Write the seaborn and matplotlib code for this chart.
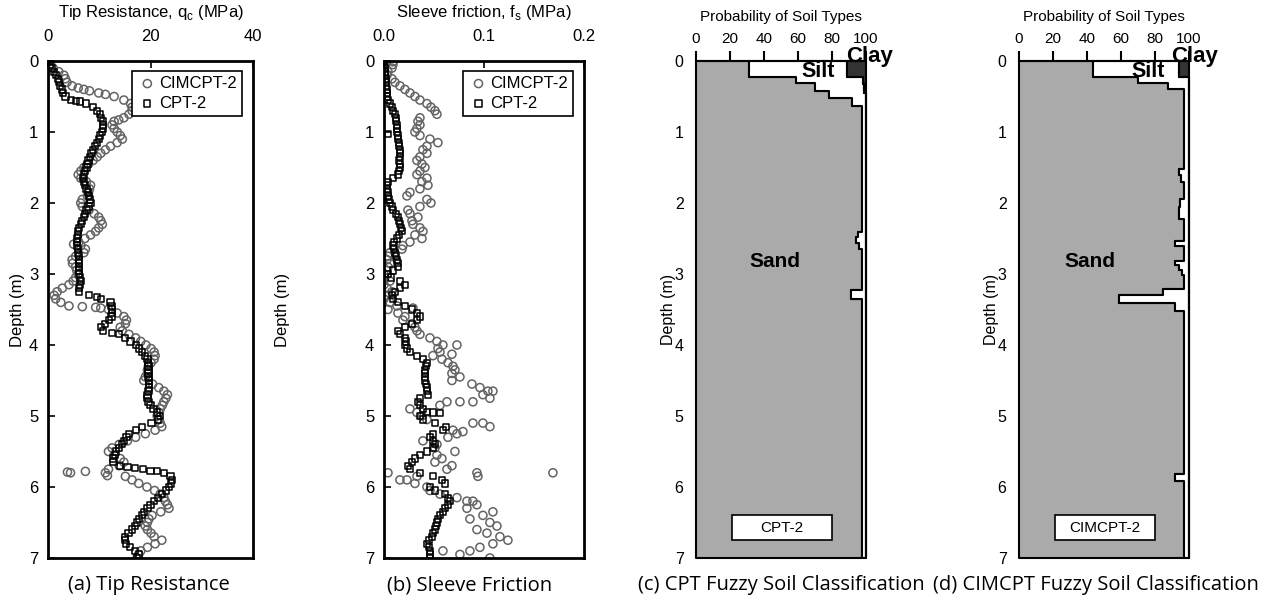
import numpy as np
import matplotlib
matplotlib.use('Agg')
import matplotlib.pyplot as plt
from matplotlib.patches import Rectangle
import seaborn as sns

# (a) tip resistance qc, MPa
qc_cpt_depth = [0.00, 0.05, 0.10, 0.15, 0.20, 0.25, 0.30, 0.35, 0.40, 0.45, 0.50, 0.55, 0.56, 0.57, 0.60, 0.65,
                0.70, 0.75, 0.80, 0.85, 0.90, 0.95, 1.00, 1.05, 1.10, 1.15, 1.20, 1.25, 1.30, 1.35, 1.40, 1.45,
                1.50, 1.55, 1.60, 1.65, 1.70, 1.75, 1.80, 1.85, 1.90, 1.95, 2.00, 2.05, 2.10, 2.15, 2.20, 2.25,
                2.30, 2.35, 2.40, 2.45, 2.50, 2.55, 2.60, 2.65, 2.70, 2.75, 2.80, 2.85, 2.90, 2.95, 3.00, 3.05,
                3.10, 3.15, 3.20, 3.25, 3.30, 3.32, 3.35, 3.40, 3.45, 3.50, 3.55, 3.60, 3.65, 3.70, 3.75, 3.80,
                3.83, 3.85, 3.90, 3.95, 4.00, 4.05, 4.10, 4.15, 4.20, 4.25, 4.30, 4.35, 4.40, 4.45, 4.50, 4.55,
                4.60, 4.65, 4.70, 4.75, 4.80, 4.85, 4.90, 4.95, 5.00, 5.05, 5.10, 5.15, 5.20, 5.25, 5.30, 5.35,
                5.40, 5.45, 5.50, 5.55, 5.60, 5.65, 5.70, 5.72, 5.73, 5.75, 5.77, 5.78, 5.80, 5.85, 5.90, 5.95,
                6.00, 6.05, 6.10, 6.15, 6.20, 6.25, 6.30, 6.35, 6.40, 6.45, 6.50, 6.55, 6.60, 6.65, 6.70, 6.75,
                6.80, 6.85, 6.90, 6.95, 7.00]
qc_cpt = [0.0, 0.4, 0.8, 1.2, 1.6, 1.9, 2.1, 2.4, 2.7, 3.0, 3.4, 4.5, 5.5, 6.3, 7.4, 8.8,
          9.6, 10.1, 10.4, 10.7, 10.8, 10.7, 10.5, 10.2, 9.9, 9.5, 9.1, 8.8, 8.5, 8.2, 7.9, 7.7,
          7.5, 7.2, 7.0, 6.9, 7.0, 7.2, 7.5, 7.8, 8.0, 8.2, 8.3, 7.9, 7.5, 7.2, 7.0, 6.7,
          6.4, 6.1, 5.9, 5.8, 5.7, 5.6, 5.7, 5.8, 5.9, 6.0, 6.0, 6.0, 6.0, 6.1, 6.1, 6.3,
          6.4, 6.2, 6.0, 6.0, 8.0, 9.6, 10.4, 12.2, 12.4, 12.5, 12.5, 12.4, 11.9, 11.2, 10.3, 10.8,
          12.5, 13.8, 15.1, 16.1, 17.1, 17.8, 18.4, 18.9, 19.4, 19.5, 19.6, 19.6, 19.6, 19.6, 19.7, 19.7,
          19.7, 19.6, 19.4, 19.4, 19.6, 20.0, 20.6, 21.3, 21.9, 21.5, 20.2, 18.4, 17.1, 15.8, 15.3, 14.8,
          14.4, 13.8, 13.3, 13.0, 12.7, 12.8, 14.1, 15.5, 17.0, 18.5, 20.0, 21.3, 22.6, 23.9, 24.2, 24.0,
          23.6, 23.0, 22.3, 21.5, 20.7, 20.0, 19.4, 18.8, 18.3, 17.8, 17.4, 16.9, 16.4, 15.7, 15.1, 15.0,
          15.2, 16.0, 17.0, 17.7, 17.3]

qc_cim_depth = [0.00, 0.05, 0.10, 0.15, 0.20, 0.25, 0.30, 0.35, 0.38, 0.40, 0.42, 0.45, 0.47, 0.50, 0.55, 0.60,
                0.65, 0.70, 0.75, 0.80, 0.83, 0.85, 0.90, 0.95, 1.00, 1.05, 1.10, 1.15, 1.20, 1.25, 1.30, 1.35,
                1.40, 1.45, 1.50, 1.55, 1.60, 1.65, 1.70, 1.75, 1.80, 1.85, 1.90, 1.95, 2.00, 2.05, 2.10, 2.15,
                2.20, 2.25, 2.30, 2.35, 2.40, 2.45, 2.50, 2.55, 2.58, 2.60, 2.65, 2.70, 2.75, 2.80, 2.85, 2.90,
                2.95, 3.00, 3.05, 3.10, 3.15, 3.20, 3.25, 3.30, 3.35, 3.40, 3.45, 3.46, 3.47, 3.48, 3.50, 3.55,
                3.60, 3.65, 3.70, 3.75, 3.80, 3.85, 3.90, 3.95, 4.00, 4.05, 4.10, 4.15, 4.20, 4.25, 4.30, 4.35,
                4.40, 4.45, 4.50, 4.55, 4.60, 4.65, 4.70, 4.75, 4.80, 4.85, 4.90, 4.95, 5.00, 5.05, 5.10, 5.15,
                5.20, 5.25, 5.30, 5.35, 5.40, 5.45, 5.50, 5.55, 5.60, 5.65, 5.70, 5.75, 5.80, 5.79, 5.80, 5.78,
                5.84, 5.85, 5.90, 5.95, 6.00, 6.05, 6.10, 6.15, 6.20, 6.25, 6.30, 6.35, 6.40, 6.45, 6.50, 6.55,
                6.60, 6.65, 6.70, 6.75, 6.80, 6.85, 6.90, 6.95, 7.00]
qc_cim = [0.0, 0.5, 1.0, 2.1, 3.1, 3.4, 3.7, 4.7, 5.9, 7.0, 8.1, 9.9, 11.2, 12.9, 14.8, 16.1,
          16.4, 16.4, 15.8, 14.8, 13.8, 12.9, 12.5, 12.9, 13.5, 14.1, 14.5, 13.5, 12.2, 11.2, 10.3, 9.6,
          8.8, 7.9, 7.0, 6.4, 5.9, 6.4, 7.5, 8.3, 8.1, 7.9, 7.7, 6.7, 6.4, 6.7, 8.0, 9.0,
          9.9, 10.3, 10.6, 9.9, 9.3, 8.3, 7.2, 6.0, 5.0, 6.4, 7.3, 7.0, 5.4, 4.7, 4.8, 5.4,
          5.6, 5.9, 5.4, 4.9, 4.1, 2.8, 1.8, 1.2, 1.5, 2.5, 4.1, 6.7, 9.3, 10.3, 11.8, 13.5,
          14.8, 15.3, 15.1, 14.1, 14.5, 15.8, 17.1, 18.1, 19.1, 20.1, 20.7, 20.9, 20.7, 20.1, 19.6, 19.4,
          19.4, 19.0, 18.7, 20.4, 21.6, 22.6, 23.3, 23.0, 22.6, 22.3, 21.9, 21.6, 21.3, 21.6, 21.9, 22.2,
          20.9, 19.0, 17.1, 15.5, 13.9, 12.5, 11.8, 12.9, 14.1, 14.8, 13.9, 11.8, 11.2, 3.8, 4.4, 7.3,
          11.6, 15.1, 16.4, 17.7, 19.3, 20.8, 21.9, 22.6, 22.9, 23.3, 23.6, 22.0, 20.3, 19.7, 19.4, 19.0,
          19.4, 20.1, 20.7, 22.2, 20.9, 19.4, 18.1, 17.7, 17.4]

# (b) sleeve friction fs, MPa
fs_cpt_depth = [0.00, 0.05, 0.10, 0.15, 0.20, 0.25, 0.30, 0.35, 0.40, 0.45, 0.50, 0.55, 0.60, 0.65, 0.70, 0.75,
                0.80, 0.85, 0.90, 0.95, 1.00, 1.03, 1.05, 1.10, 1.15, 1.20, 1.25, 1.30, 1.35, 1.40, 1.45, 1.50,
                1.55, 1.60, 1.65, 1.70, 1.75, 1.80, 1.85, 1.90, 1.95, 2.00, 2.05, 2.10, 2.15, 2.20, 2.25, 2.30,
                2.35, 2.40, 2.45, 2.50, 2.55, 2.60, 2.65, 2.70, 2.75, 2.80, 2.85, 2.90, 2.95, 3.00, 3.05, 3.10,
                3.15, 3.20, 3.25, 3.30, 3.35, 3.40, 3.45, 3.50, 3.55, 3.60, 3.65, 3.70, 3.75, 3.80, 3.85, 3.90,
                3.95, 4.00, 4.05, 4.10, 4.15, 4.20, 4.25, 4.30, 4.35, 4.40, 4.45, 4.50, 4.55, 4.60, 4.65, 4.70,
                4.75, 4.80, 4.85, 4.90, 4.94, 4.95, 4.96, 5.00, 5.05, 5.10, 5.15, 5.20, 5.25, 5.30, 5.35, 5.40,
                5.45, 5.50, 5.55, 5.60, 5.65, 5.70, 5.75, 5.80, 5.85, 5.90, 5.95, 6.00, 6.05, 6.10, 6.15, 6.20,
                6.25, 6.30, 6.35, 6.40, 6.45, 6.50, 6.55, 6.60, 6.65, 6.70, 6.75, 6.80, 6.85, 6.90, 6.95, 7.00]
fs_cpt = [0.000, 0.000, 0.001, 0.001, 0.001, 0.002, 0.002, 0.002, 0.003, 0.003, 0.003, 0.004, 0.006, 0.008, 0.009, 0.011,
          0.012, 0.012, 0.013, 0.013, 0.013, 0.004, 0.014, 0.014, 0.015, 0.015, 0.016, 0.016, 0.016, 0.015, 0.016, 0.016,
          0.015, 0.014, 0.009, 0.004, 0.003, 0.003, 0.004, 0.004, 0.005, 0.006, 0.008, 0.009, 0.012, 0.014, 0.015, 0.016,
          0.017, 0.018, 0.015, 0.013, 0.010, 0.009, 0.010, 0.011, 0.012, 0.013, 0.014, 0.014, 0.009, 0.004, 0.007, 0.016,
          0.021, 0.016, 0.011, 0.008, 0.009, 0.014, 0.021, 0.028, 0.033, 0.036, 0.033, 0.028, 0.021, 0.014, 0.016, 0.021,
          0.022, 0.021, 0.023, 0.026, 0.033, 0.039, 0.043, 0.042, 0.041, 0.041, 0.041, 0.041, 0.042, 0.043, 0.043, 0.044,
          0.036, 0.034, 0.036, 0.039, 0.043, 0.049, 0.056, 0.036, 0.039, 0.051, 0.062, 0.059, 0.049, 0.046, 0.049, 0.051,
          0.049, 0.043, 0.036, 0.031, 0.028, 0.024, 0.026, 0.036, 0.049, 0.058, 0.061, 0.046, 0.051, 0.061, 0.064, 0.066,
          0.064, 0.061, 0.059, 0.056, 0.054, 0.053, 0.052, 0.051, 0.049, 0.048, 0.045, 0.043, 0.045, 0.046, 0.046, 0.046]

fs_cim_depth = [0.00, 0.01, 0.05, 0.10, 0.15, 0.20, 0.25, 0.30, 0.35, 0.40, 0.45, 0.50, 0.55, 0.60, 0.65, 0.70,
                0.75, 0.80, 0.85, 0.90, 0.95, 1.00, 1.05, 1.10, 1.15, 1.20, 1.25, 1.30, 1.35, 1.40, 1.45, 1.50,
                1.55, 1.60, 1.65, 1.70, 1.75, 1.80, 1.85, 1.90, 1.95, 2.00, 2.05, 2.10, 2.15, 2.20, 2.25, 2.30,
                2.35, 2.40, 2.45, 2.50, 2.55, 2.60, 2.65, 2.70, 2.75, 2.80, 2.85, 2.90, 2.95, 3.00, 3.05, 3.10,
                3.15, 3.20, 3.25, 3.30, 3.35, 3.40, 3.45, 3.48, 3.50, 3.55, 3.60, 3.65, 3.70, 3.75, 3.80, 3.85,
                3.90, 3.95, 4.00, 4.00, 4.05, 4.10, 4.13, 4.15, 4.20, 4.25, 4.30, 4.35, 4.40, 4.45, 4.50, 4.55,
                4.60, 4.65, 4.65, 4.70, 4.75, 4.80, 4.80, 4.80, 4.85, 4.90, 4.95, 5.00, 5.05, 5.10, 5.10, 5.15,
                5.20, 5.22, 5.25, 5.30, 5.35, 5.40, 5.45, 5.50, 5.55, 5.60, 5.65, 5.70, 5.75, 5.80, 5.80, 5.80,
                5.85, 5.85, 5.90, 5.90, 5.95, 6.00, 6.05, 6.10, 6.15, 6.20, 6.20, 6.25, 6.30, 6.35, 6.40, 6.45,
                6.50, 6.55, 6.60, 6.65, 6.70, 6.75, 6.80, 6.85, 6.90, 6.90, 6.95, 7.00]
fs_cim = [0.003, 0.009, 0.009, 0.008, 0.004, 0.003, 0.008, 0.011, 0.016, 0.021, 0.026, 0.031, 0.036, 0.043, 0.047, 0.051,
          0.053, 0.036, 0.034, 0.036, 0.033, 0.031, 0.036, 0.046, 0.054, 0.043, 0.039, 0.043, 0.036, 0.033, 0.038, 0.041,
          0.036, 0.033, 0.043, 0.038, 0.044, 0.036, 0.026, 0.023, 0.043, 0.047, 0.036, 0.024, 0.026, 0.034, 0.028, 0.029,
          0.036, 0.039, 0.031, 0.038, 0.026, 0.019, 0.018, 0.006, 0.004, 0.003, 0.006, 0.004, 0.003, 0.000, 0.001, 0.006,
          0.000, 0.003, 0.008, 0.003, 0.000, 0.006, 0.013, 0.029, 0.004, 0.014, 0.021, 0.019, 0.028, 0.031, 0.033, 0.036,
          0.046, 0.053, 0.059, 0.073, 0.054, 0.056, 0.068, 0.049, 0.058, 0.064, 0.069, 0.071, 0.068, 0.076, 0.068, 0.088,
          0.096, 0.104, 0.109, 0.099, 0.106, 0.076, 0.089, 0.063, 0.056, 0.026, 0.033, 0.038, 0.043, 0.089, 0.099, 0.106,
          0.069, 0.079, 0.073, 0.064, 0.039, 0.053, 0.051, 0.071, 0.053, 0.058, 0.051, 0.068, 0.063, 0.004, 0.093, 0.169,
          0.094, 0.033, 0.016, 0.023, 0.031, 0.043, 0.046, 0.056, 0.073, 0.083, 0.089, 0.093, 0.083, 0.109, 0.099, 0.086,
          0.106, 0.113, 0.093, 0.103, 0.116, 0.124, 0.109, 0.096, 0.059, 0.086, 0.076, 0.106]

# (c) CPT fuzzy soil classification, % (layer top depth, sand, clay; silt is the rest)
cpt_top = [0.00, 0.22, 0.31, 0.33, 0.42, 0.45, 0.52, 0.63, 2.41, 2.48, 2.56, 2.65, 3.23, 3.35]
cpt_sand = [31, 59, 70, 70, 78, 78, 92, 97.5, 95.5, 94, 96, 97.5, 91, 97.5]
cpt_clay = [11, 2, 2, 1, 1, 0, 0, 0, 0, 0, 0, 0, 0, 0]

# (d) CIMCPT fuzzy soil classification, %
cim_top = [0.00, 0.22, 0.23, 0.31, 0.40, 1.52, 1.60, 1.70, 1.94, 2.05, 2.23, 2.53, 2.60, 2.81, 2.87,
           2.95, 3.02, 3.21, 3.30, 3.41, 3.52, 5.82, 5.92]
cim_sand = [43.5, 70, 70, 87.5, 97.3, 94, 95.5, 97.3, 95, 94, 97.3, 91.5, 97.3, 92, 94,
            96, 97.3, 84.5, 59, 91.5, 97.3, 91.8, 97.3]
cim_clay = [6, 6, 0, 0, 0, 0, 0, 0, 0, 0, 0, 0, 0, 0, 0, 0, 0, 0, 0, 0, 0, 0, 0]

sns.set_style('white')
plt.rcParams['font.family'] = ['Liberation Sans', 'DejaVu Sans']
plt.rcParams['text.color'] = 'black'
plt.rcParams['axes.labelcolor'] = 'black'
plt.rcParams['xtick.color'] = 'black'
plt.rcParams['ytick.color'] = 'black'

fig = plt.figure(figsize=(12.76, 6.04), dpi=100)
ax_a = fig.add_axes([0.0376, 0.0762, 0.1607, 0.8228])
ax_b = fig.add_axes([0.3009, 0.0762, 0.1567, 0.8228])
ax_c = fig.add_axes([0.5455, 0.0762, 0.1332, 0.8228])
ax_d = fig.add_axes([0.7986, 0.0762, 0.1332, 0.8228])


def profile(ax, x_cim, d_cim, x_cpt, d_cpt, xmax, ticks, ticklabels, title, ylab_x):
    sns.scatterplot(x=x_cim, y=d_cim, ax=ax, marker='o', s=34, color='#646464',
                    linewidth=1.1, label='CIMCPT-2')
    ax.collections[-1].set_facecolor('none')
    ax.collections[-1].set_edgecolor('#646464')
    sns.scatterplot(x=x_cpt, y=d_cpt, ax=ax, marker='s', s=20, color='black',
                    linewidth=1.1, label='CPT-2')
    ax.collections[-1].set_facecolor('none')
    ax.collections[-1].set_edgecolor('black')
    ax.set_xlim(0, xmax)
    ax.set_ylim(7, 0)
    ax.set_xticks(ticks)
    ax.set_xticklabels(ticklabels)
    ax.set_yticks(range(8))
    ax.xaxis.tick_top()
    ax.xaxis.set_label_position('top')
    ax.set_xlabel(title, fontsize=12, labelpad=9)
    ax.set_ylabel('Depth (m)', fontsize=12)
    ax.yaxis.set_label_coords(ylab_x, 0.5)
    ax.tick_params(axis='x', direction='in', length=5, width=1.2, labelsize=12, pad=12, top=True, bottom=False)
    ax.tick_params(axis='y', direction='in', length=5, width=1.2, labelsize=12, pad=7, left=True)
    for sp in ax.spines.values():
        sp.set_linewidth(2)
        sp.set_color('black')
    leg = ax.legend(loc='upper right', bbox_to_anchor=(0.945, 0.98), fancybox=False, framealpha=1,
                    edgecolor='black', fontsize=12, handletextpad=0.1, borderpad=0.3,
                    labelspacing=0.3, handlelength=1.2, borderaxespad=0)
    leg.get_frame().set_linewidth(1.2)


profile(ax_a, qc_cim, qc_cim_depth, qc_cpt, qc_cpt_depth, 40, [0, 20, 40], ['0', '20', '40'],
        r'Tip Resistance, q$_\mathregular{c}$ (MPa)', -0.112)
profile(ax_b, fs_cim, fs_cim_depth, fs_cpt, fs_cpt_depth, 0.2, [0, 0.1, 0.2], ['0.0', '0.1', '0.2'],
        r'Sleeve friction, f$_\mathregular{s}$ (MPa)', -0.47)


def soil_column(ax, top, sand, clay, tag, sand_xy, silt_xy, clay_xy):
    depth = np.append(top, 7.0)
    sand_x = np.append(sand, sand[-1])
    clay_x = 100 - np.append(clay, clay[-1])
    kw = dict(step='post', edgecolor='black', linewidth=1.5, clip_on=False)
    ax.fill_betweenx(depth, 0, sand_x, facecolor='#aaaaaa', **kw)
    ax.fill_betweenx(depth, sand_x, clay_x, facecolor='white', **kw)
    ax.fill_betweenx(depth, clay_x, 100, facecolor='#333333', **kw)
    ax.set_xlim(0, 100)
    ax.set_ylim(7, 0)
    ax.set_xticks([0, 20, 40, 60, 80, 100])
    ax.set_yticks(range(8))
    ax.xaxis.tick_top()
    ax.xaxis.set_label_position('top')
    ax.set_xlabel('Probability of Soil Types', fontsize=11, labelpad=8)
    ax.set_ylabel('Depth (m)', fontsize=11.5)
    ax.yaxis.set_label_coords(-0.117, 0.5)
    ax.tick_params(axis='x', direction='out', length=7, width=1.5, labelsize=11, pad=4, top=True, bottom=False)
    ax.tick_params(axis='y', length=0, labelsize=11.5, pad=9)
    for side in ['right', 'bottom', 'left']:
        ax.spines[side].set_visible(False)
    ax.spines['top'].set_linewidth(1.5)
    ax.spines['top'].set_color('black')
    ax.add_patch(Rectangle((21, 6.4), 59, 0.35, facecolor='white', edgecolor='black', linewidth=1.2))
    ax.text(50.5, 6.575, tag, ha='center', va='center', fontsize=11)
    ax.text(*sand_xy, 'Sand', ha='center', va='center', fontsize=15, fontweight='bold')
    ax.text(*silt_xy, 'Silt', ha='center', va='center', fontsize=15.5, fontweight='bold')
    ax.text(*clay_xy, 'Clay', ha='center', va='center', fontsize=16, fontweight='bold')


soil_column(ax_c, cpt_top, cpt_sand, cpt_clay, 'CPT-2', (46.5, 2.83), (72, 0.15), (102, -0.06))
soil_column(ax_d, cim_top, cim_sand, cim_clay, 'CIMCPT-2', (42, 2.83), (76, 0.15), (103.5, -0.06))

cap = dict(ha='center', va='center', fontsize=14.5, family=['Open Sans', 'DejaVu Sans'])
fig.text(149 / 1276, 1 - 585 / 604, '(a) Tip Resistance', **cap)
fig.text(470 / 1276, 1 - 585 / 604, '(b) Sleeve Friction', **cap)
fig.text(781 / 1276, 1 - 585 / 604, '(c) CPT Fuzzy Soil Classification', **cap)
fig.text(1096 / 1276, 1 - 585 / 604, '(d) CIMCPT Fuzzy Soil Classification', **cap)

fig.savefig('out.png', dpi=100)
